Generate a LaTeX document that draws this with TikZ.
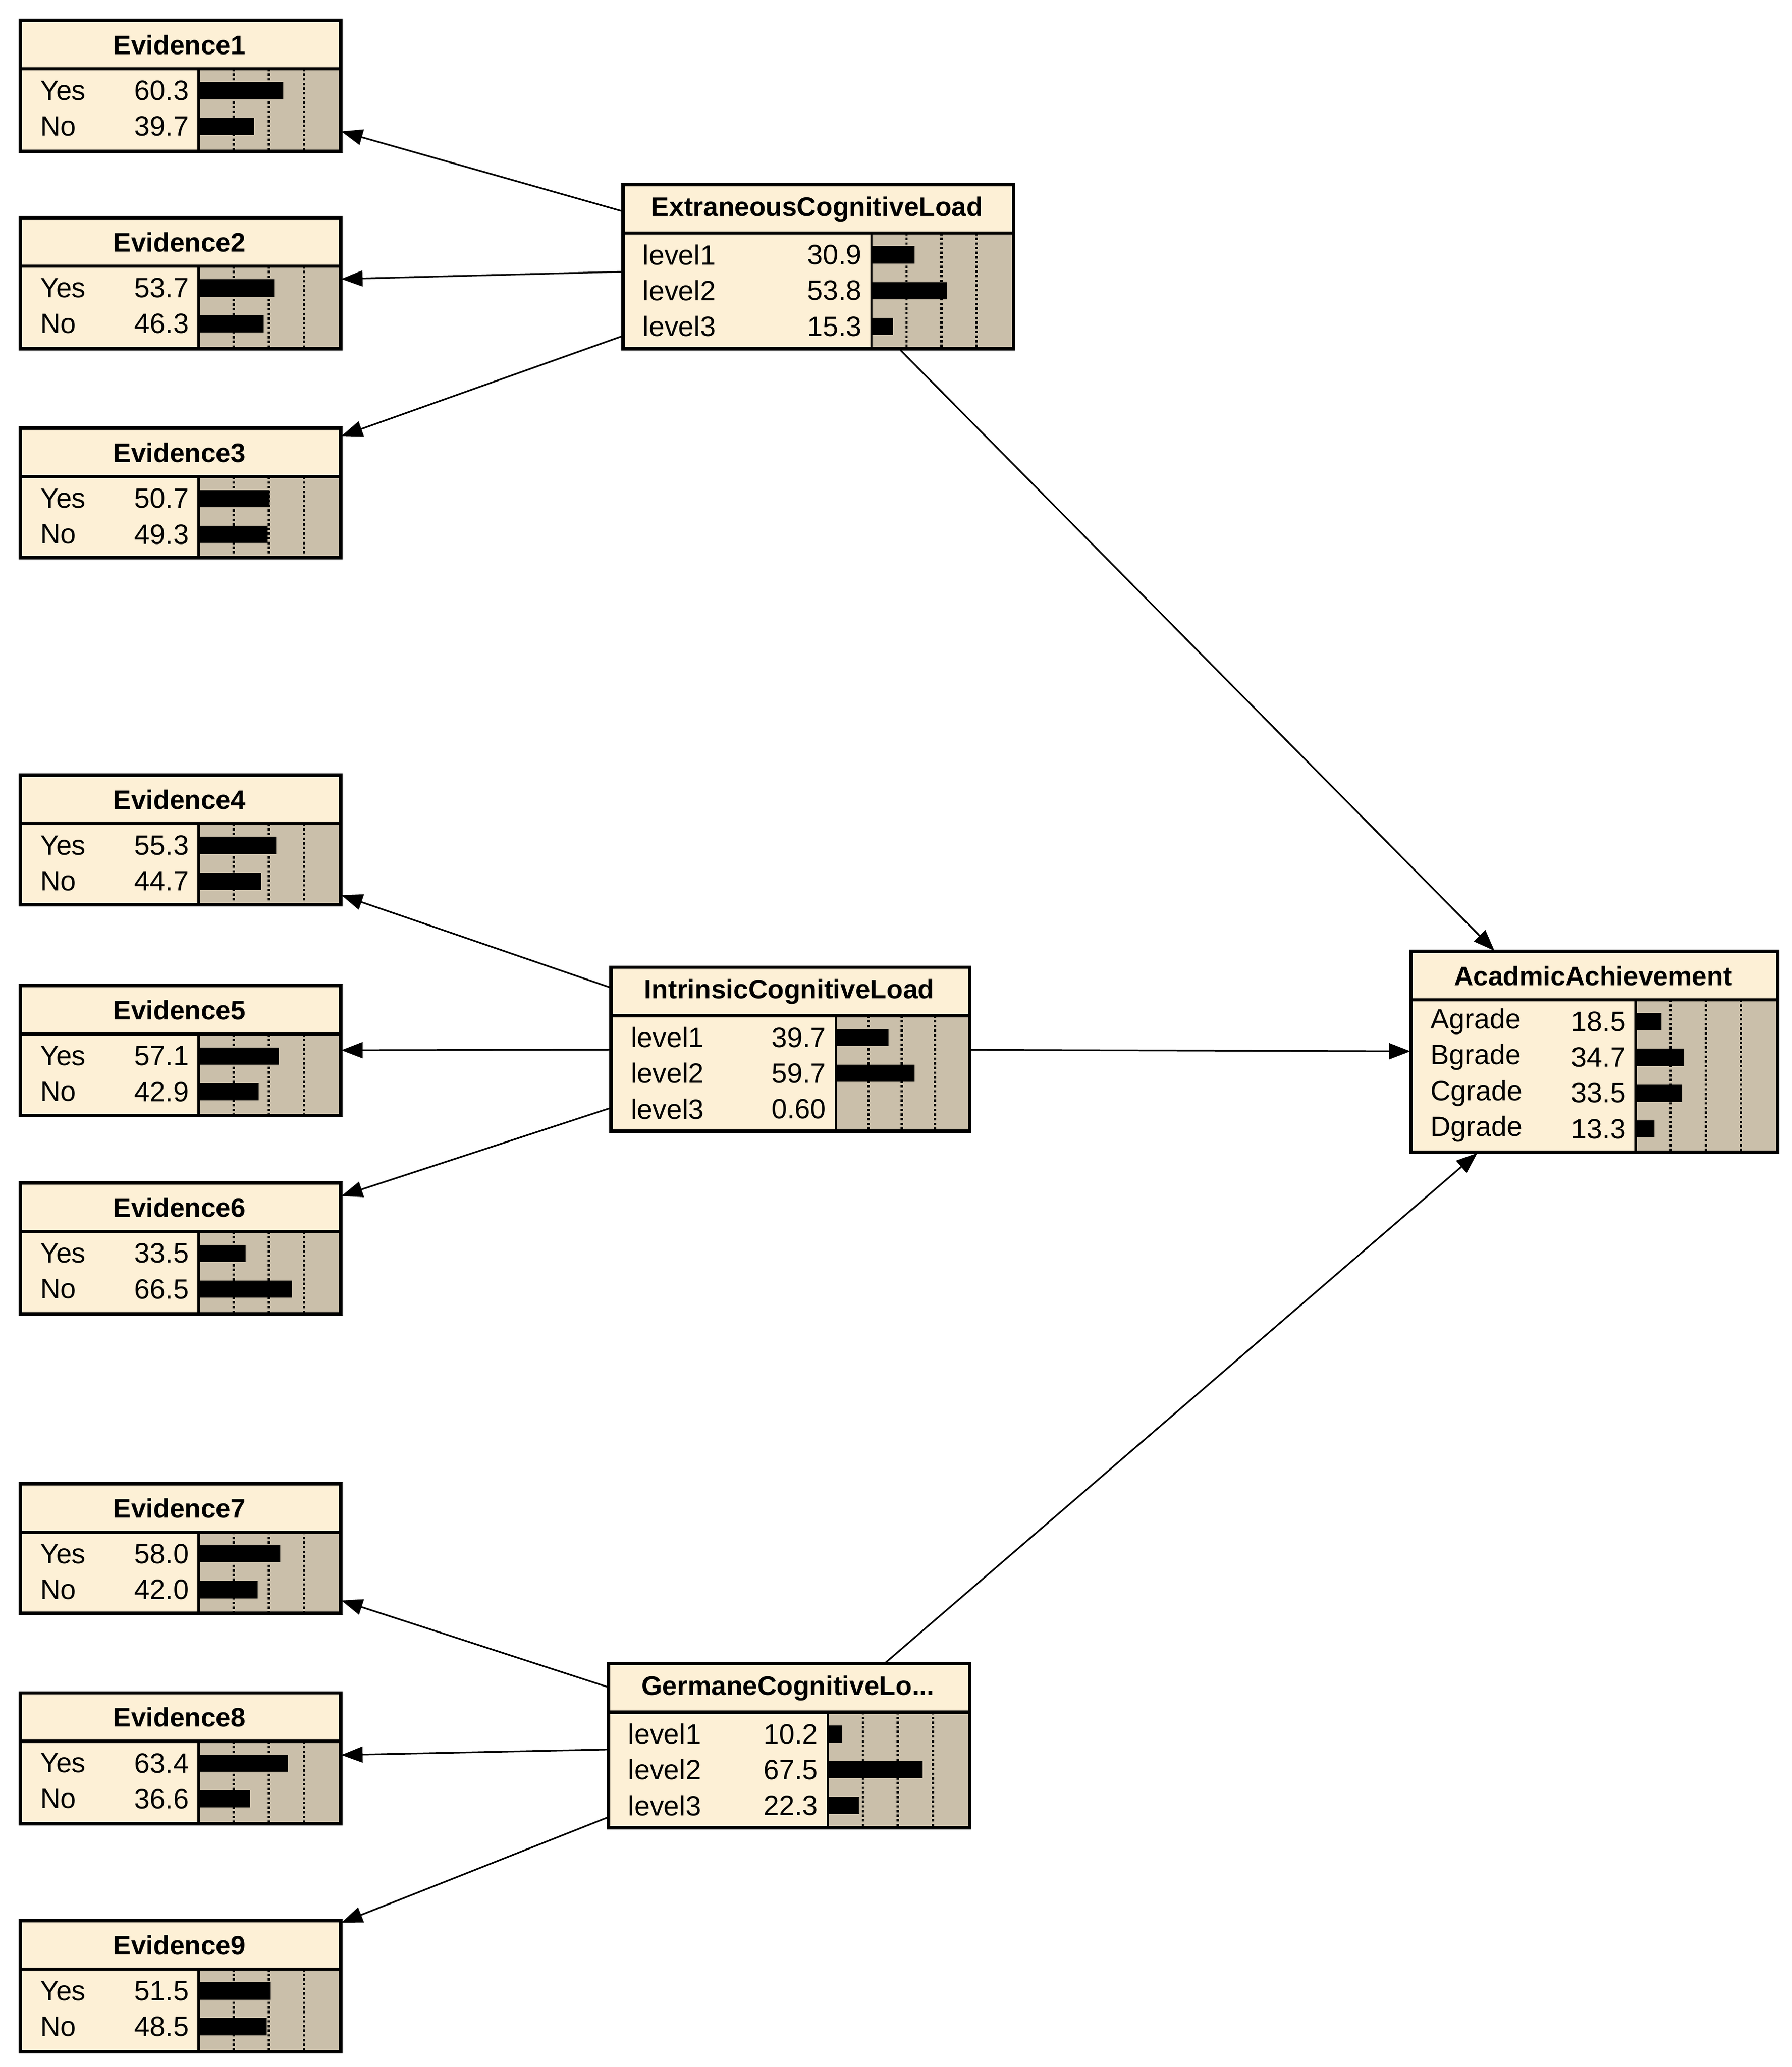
\documentclass[tikz,border=0pt]{standalone}
\usepackage{fontspec}
\setmainfont{Liberation Sans}
\usetikzlibrary{arrows.meta}
\definecolor{cream}{RGB}{253,240,214}
\definecolor{tan}{RGB}{202,191,170}
\tikzset{
  box/.style={draw=black, line width=1pt, fill=cream, inner sep=0pt, anchor=north west},
  ttl/.style={font=\fontsize{11.5}{12}\selectfont\bfseries, inner sep=0pt},
  lbl/.style={font=\fontsize{12}{12}\selectfont, inner sep=0pt},
  edge/.style={line width=0.7pt, -{Triangle[length=0.32cm,width=0.24cm]}}
}
\newcommand\bnbox[8]{%
  \node[box, minimum width={(#4-#2)*0.02cm}, minimum height={(#6-#3)*0.02cm}] (#1) at (#2,#3) {};
  \node[ttl] at ({(#2+#4)/2},{#3+19}) {#7};
  \fill[tan] (#5,{#3+37}) rectangle (#4,#6);
  \foreach \f in {0.25,0.5,0.75}
    \draw[densely dotted, line width=1pt] ({#5+\f*(#4-#5)},{#3+37}) -- ({#5+\f*(#4-#5)},#6);
  \foreach \lab/\val [count=\i] in {#8} {
    \node[lbl, anchor=west] at ({#2+15},{#3+53.5+(\i-1)*27}) {\lab};
    \node[lbl, anchor=east] at ({#5-7},{#3+53.5+(\i-1)*27}) {\val};
    \fill ({#5},{#3+47+(\i-1)*27}) rectangle ({#5+\val/100*(#4-#5)},{#3+60+(\i-1)*27});
  }
  \draw[line width=1.4pt] (#2,{#3+37}) -- (#4,{#3+37});
  \draw[line width=1pt] (#5,{#3+37}) -- (#5,#6);
  \draw[line width=1pt] (#1.north west) rectangle (#1.south east);
}
\begin{document}
\begin{tikzpicture}[x=0.02cm,y=-0.02cm]
\useasboundingbox (0,0) rectangle (1353,1561);
\bnbox{e1}{15}{15}{256}{150}{113}{Evidence1}{Yes/60.3,No/39.7}
\bnbox{e2}{15}{164}{256}{150}{262}{Evidence2}{Yes/53.7,No/46.3}
\bnbox{e3}{15}{323}{256}{150}{420}{Evidence3}{Yes/50.7,No/49.3}
\bnbox{e4}{15}{585}{256}{150}{682}{Evidence4}{Yes/55.3,No/44.7}
\bnbox{e5}{15}{744}{256}{150}{841}{Evidence5}{Yes/57.1,No/42.9}
\bnbox{e6}{15}{893}{256}{150}{991}{Evidence6}{Yes/33.5,No/66.5}
\bnbox{e7}{15}{1120}{256}{150}{1217}{Evidence7}{Yes/58.0,No/42.0}
\bnbox{e8}{15}{1278}{256}{150}{1376}{Evidence8}{Yes/63.4,No/36.6}
\bnbox{e9}{15}{1450}{256}{150}{1548}{Evidence9}{Yes/51.5,No/48.5}
\bnbox{ecl}{470}{139}{764}{658}{262}{ExtraneousCognitiveLoad}{level1/30.9,level2/53.8,level3/15.3}
\bnbox{icl}{461}{730}{731}{631}{853}{IntrinsicCognitiveLoad}{level1/39.7,level2/59.7,level3/0.60}
\bnbox{gcl}{459}{1256}{731}{625}{1379}{GermaneCognitiveLo...}{level1/10.2,level2/67.5,level3/22.3}
\bnbox{aa}{1065}{718}{1341}{1235}{869}{AcadmicAchievement}{Agrade/18.5,Bgrade/34.7,Cgrade/33.5,Dgrade/13.3}
\draw[edge] (ecl) -- (e1);
\draw[edge] (ecl) -- (e2);
\draw[edge] (ecl) -- (e3);
\draw[edge] (icl) -- (e4);
\draw[edge] (icl) -- (e5);
\draw[edge] (icl) -- (e6);
\draw[edge] (gcl) -- (e7);
\draw[edge] (gcl) -- (e8);
\draw[edge] (gcl) -- (e9);
\draw[edge] (ecl) -- (aa);
\draw[edge] (icl) -- (aa);
\draw[edge] (gcl) -- (aa);
\end{tikzpicture}
\end{document}
